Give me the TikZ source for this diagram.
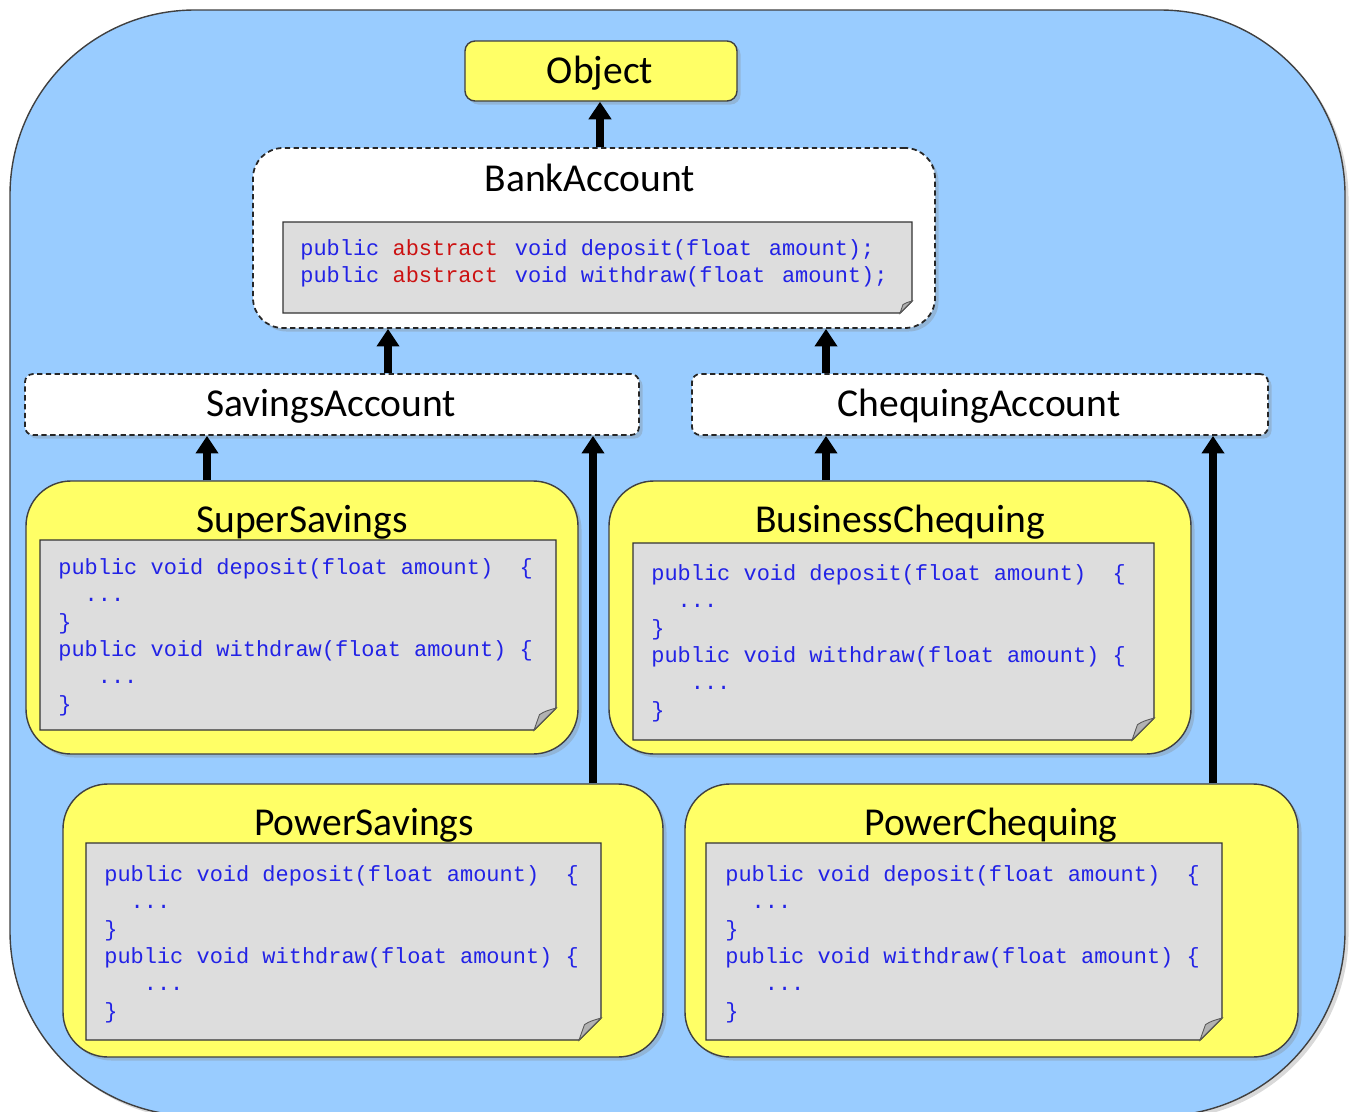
\documentclass[tikz,border=0pt]{standalone}
\usepackage{fontspec}
\setmainfont{Carlito}
\setmonofont{Liberation Mono}
\usetikzlibrary{fit,shadows,arrows.meta}
\definecolor{blue9}{HTML}{99CCFF}
\definecolor{yellow9}{HTML}{FFFF66}
\definecolor{gray9}{HTML}{DDDDDD}
\definecolor{codeblue}{HTML}{2222E6}
\definecolor{codered}{HTML}{CC1111}

% code note with folded corner: x1, y1, x2, y2, fold
\newcommand\codenote[5]{%
\draw [fill=gray9,draw=black!80,line width=0.8pt] (#1,#2) -- (#3,#2) -- (#3,#4-#5) -- (#3-#5,#4) -- (#1,#4) -- cycle;
\draw [fill=black!30,draw=black!65,line width=0.5pt] (#3,#4-#5) .. controls (#3-0.5*#5,#4-0.85*#5) .. (#3-0.75*#5,#4-0.7*#5) -- (#3-#5,#4) -- cycle;}

\begin{document}
\begin{tikzpicture}[x=0.02cm,y=-0.02cm,
  title/.style={font=\fontsize{22.5}{26}\selectfont,inner sep=0},
  codetext/.style={font=\ttfamily\fontsize{12.5}{15.6}\selectfont,text=codeblue,align=left,anchor=north west,inner sep=0},
  box/.style={inner sep=0,draw=black!75,line width=0.8pt,drop shadow={shadow xshift=2pt,shadow yshift=-2pt,opacity=0.3}},
  classbox/.style={box,fill=yellow9,rounded corners=0.9cm},
  dashbox/.style={box,fill=white,draw=black!85,line width=1pt,dash pattern=on 3pt off 2pt,rounded corners=0.16cm},
  inherit/.style={line width=4pt,-{Triangle[length=10pt,width=12.5pt]}}]
\useasboundingbox (0,0) rectangle (1353,1112);
\clip (0,0) rectangle (1353,1112);
\node [box,fill=blue9,rounded corners=3.7cm,fit={(10,10) (1345,1116)}] (world) {};

% top of the hierarchy
\node [box,fill=yellow9,rounded corners=0.2cm,fit={(465,41) (737,101)}] (object) {};
\node [title] (objecttitle) at (600,73) {Object};

\node [dashbox,rounded corners=0.6cm,fit={(253,148) (935,328)}] (bank) {};
\node [title] (banktitle) at (590,178) {BankAccount};
\codenote{283}{222}{912}{313}{12}
\node [codetext] (bankcode) at (300,239) {public \textcolor{codered}{abstract}\,\ void deposit(float\,\ amount);\\
public \textcolor{codered}{abstract}\,\ void withdraw(float\,\ amount);};

% abstract subclasses
\node [dashbox,fit={(25,374) (639,435)}] (savings) {};
\node [title] (savingstitle) at (331,406) {SavingsAccount};
\node [dashbox,fit={(692,374) (1268,435)}] (chequing) {};
\node [title] (chequingtitle) at (979,406) {ChequingAccount};

% concrete subclasses
\node [classbox,fit={(26,481) (578,754)}] (super) {};
\node [title] (supertitle) at (302,522) {SuperSavings};
\codenote{40}{540}{556}{730}{22}
\node [codetext] (supercode) at (58,558) {public void deposit(float amount)\ \ \{\\
\hspace*{1.2em}...\\
\}\\
public void withdraw(float amount)\ \{\\
\hspace*{1.8em}...\\
\}};

\node [classbox,fit={(609,481) (1191,754)}] (business) {};
\node [title] (businesstitle) at (900,522) {BusinessChequing};
\codenote{633}{543}{1154}{740}{22}
\node [codetext] (businesscode) at (651,564) {public void deposit(float amount)\ \ \{\\
\hspace*{1.2em}...\\
\}\\
public void withdraw(float amount)\ \{\\
\hspace*{1.8em}...\\
\}};

\node [classbox,fit={(63,784) (663,1057)}] (powersav) {};
\node [title] (powersavtitle) at (364,825) {PowerSavings};
\codenote{86}{843}{601}{1040}{22}
\node [codetext] (powersavcode) at (104,865) {public void deposit(float amount)\ \ \{\\
\hspace*{1.2em}...\\
\}\\
public void withdraw(float amount)\ \{\\
\hspace*{1.8em}...\\
\}};

\node [classbox,fit={(685,784) (1298,1057)}] (powercheq) {};
\node [title] (powercheqtitle) at (991,825) {PowerChequing};
\codenote{706}{843}{1222}{1040}{22}
\node [codetext] (powercheqcode) at (725,865) {public void deposit(float amount)\ \ \{\\
\hspace*{1.2em}...\\
\}\\
public void withdraw(float amount)\ \{\\
\hspace*{1.8em}...\\
\}};

% inheritance arrows
\draw [inherit] (bank.north -| 600,0) -- (object.south -| 600,0);
\draw [inherit] (savings.north -| 388,0) -- (bank.south -| 388,0);
\draw [inherit] (chequing.north -| 826,0) -- (bank.south -| 826,0);
\draw [inherit] (super.north -| 207,0) -- (savings.south -| 207,0);
\draw [inherit] (powersav.north -| 593,0) -- (savings.south -| 593,0);
\draw [inherit] (business.north -| 826,0) -- (chequing.south -| 826,0);
\draw [inherit] (powercheq.north -| 1213,0) -- (chequing.south -| 1213,0);
\end{tikzpicture}
\end{document}
